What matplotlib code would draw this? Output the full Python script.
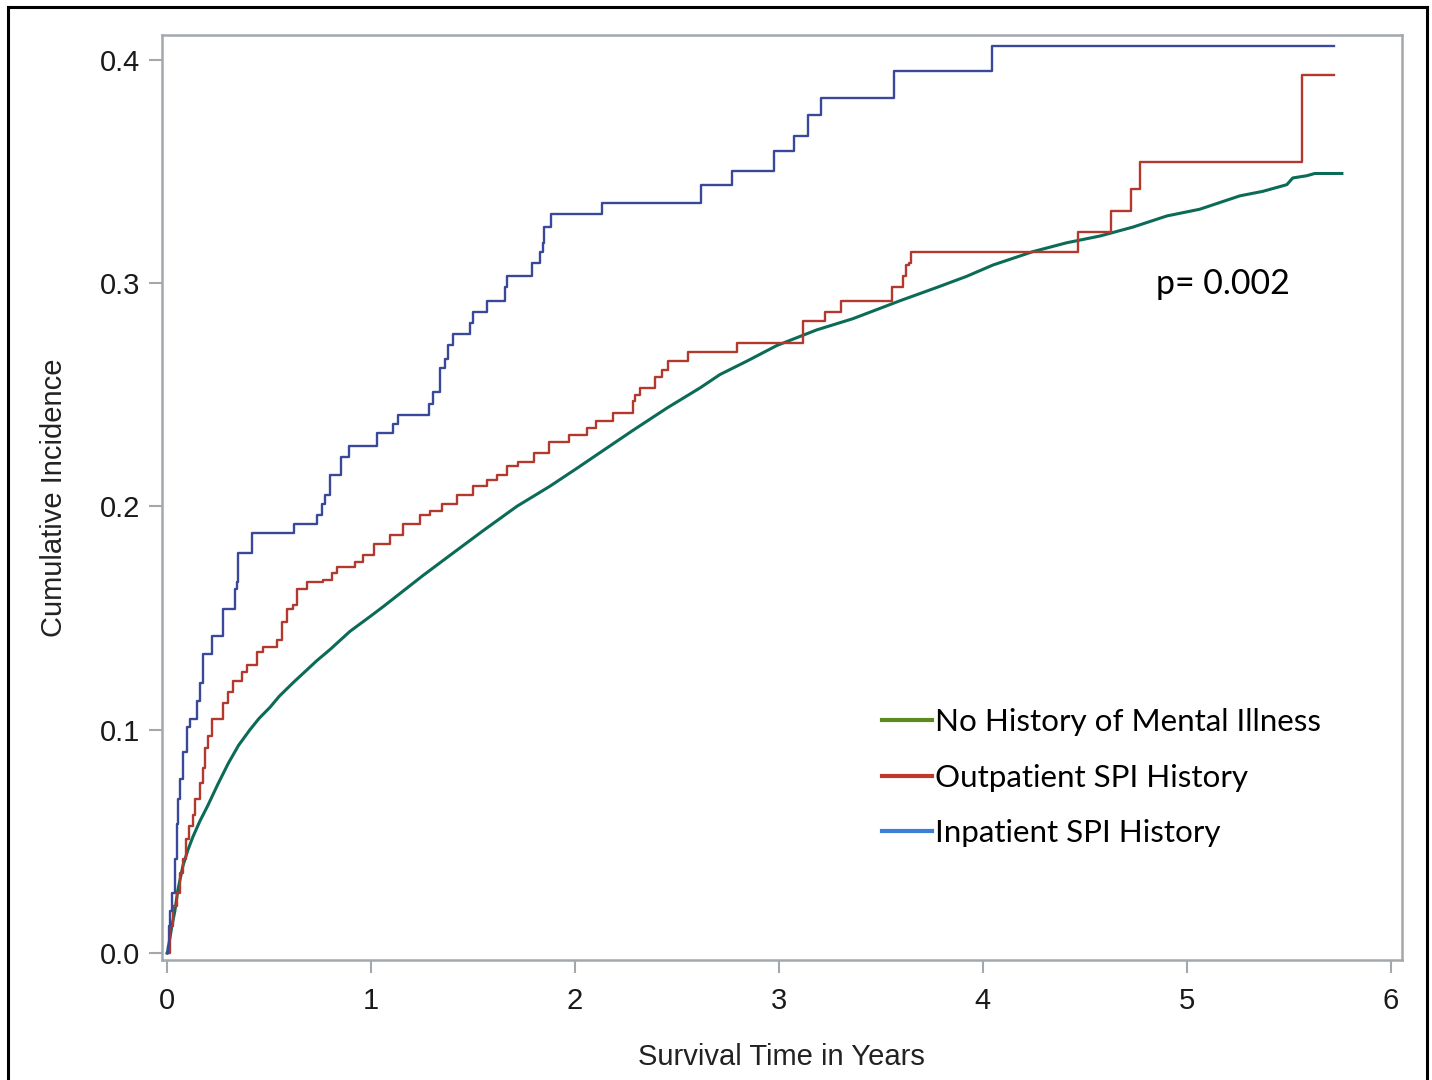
"""Cumulative incidence by mental illness history, redrawn from the figure."""

import matplotlib
import matplotlib.pyplot as plt
from matplotlib.lines import Line2D

matplotlib.use("Agg")

# Inpatient SPI history (step function, value holds from each time)
inpatient_years = [
    0.000, 0.003, 0.008, 0.013, 0.023, 0.038, 0.048, 0.055, 0.062, 0.077,
    0.096, 0.111, 0.146, 0.160, 0.175, 0.219, 0.273, 0.332, 0.340, 0.347,
    0.415, 0.621, 0.734, 0.758, 0.773, 0.798, 0.852, 0.891, 1.029, 1.107,
    1.131, 1.284, 1.303, 1.338, 1.362, 1.377, 1.401, 1.485, 1.500, 1.569,
    1.657, 1.667, 1.789, 1.828, 1.843, 1.848, 1.882, 2.132, 2.618, 2.770,
    2.976, 3.074, 3.142, 3.206, 3.564, 4.045, 5.722]
inpatient_ci = [
    0.000, 0.003, 0.012, 0.019, 0.027, 0.042, 0.058, 0.069, 0.078, 0.090,
    0.101, 0.105, 0.113, 0.121, 0.134, 0.142, 0.154, 0.163, 0.166, 0.179,
    0.188, 0.192, 0.196, 0.201, 0.205, 0.214, 0.222, 0.227, 0.233, 0.237,
    0.241, 0.246, 0.251, 0.262, 0.266, 0.272, 0.277, 0.282, 0.287, 0.292,
    0.298, 0.303, 0.309, 0.314, 0.318, 0.325, 0.331, 0.336, 0.344, 0.350,
    0.359, 0.366, 0.375, 0.383, 0.395, 0.406, 0.406]

# Outpatient SPI history (step function)
outpatient_years = [
    0.000, 0.013, 0.028, 0.048, 0.062, 0.077, 0.092, 0.106, 0.126, 0.136,
    0.160, 0.175, 0.185, 0.200, 0.219, 0.273, 0.298, 0.322, 0.366, 0.391,
    0.440, 0.469, 0.538, 0.563, 0.587, 0.616, 0.636, 0.685, 0.764, 0.808,
    0.832, 0.920, 0.959, 1.013, 1.092, 1.156, 1.239, 1.288, 1.347, 1.421,
    1.500, 1.569, 1.618, 1.667, 1.721, 1.799, 1.873, 1.971, 2.059, 2.103,
    2.186, 2.284, 2.294, 2.318, 2.392, 2.426, 2.456, 2.554, 2.794, 3.118,
    3.226, 3.304, 3.554, 3.608, 3.623, 3.637, 3.647, 4.466, 4.628, 4.726,
    4.770, 5.565, 5.722]
outpatient_ci = [
    0.000, 0.012, 0.021, 0.027, 0.036, 0.042, 0.051, 0.057, 0.062, 0.069,
    0.076, 0.083, 0.092, 0.097, 0.105, 0.112, 0.117, 0.122, 0.126, 0.129,
    0.135, 0.137, 0.140, 0.148, 0.154, 0.156, 0.163, 0.166, 0.167, 0.170,
    0.173, 0.175, 0.178, 0.183, 0.187, 0.192, 0.196, 0.198, 0.201, 0.205,
    0.209, 0.212, 0.214, 0.218, 0.220, 0.224, 0.229, 0.232, 0.235, 0.238,
    0.242, 0.247, 0.250, 0.253, 0.258, 0.261, 0.265, 0.269, 0.273, 0.283,
    0.287, 0.292, 0.298, 0.303, 0.308, 0.309, 0.314, 0.323, 0.332, 0.342,
    0.354, 0.393, 0.393]

# No history of mental illness (many small steps, read as a curve)
none_years = [
    0.000, 0.003, 0.023, 0.038, 0.052, 0.077, 0.101, 0.126, 0.160, 0.199,
    0.248, 0.300, 0.350, 0.406, 0.450, 0.504, 0.550, 0.617, 0.735, 0.800,
    0.896, 1.000, 1.058, 1.254, 1.386, 1.548, 1.715, 1.877, 2.009, 2.122,
    2.284, 2.451, 2.613, 2.711, 2.843, 2.990, 3.186, 3.363, 3.593, 3.775,
    3.922, 4.049, 4.245, 4.412, 4.574, 4.736, 4.903, 5.064, 5.261, 5.373,
    5.491, 5.520, 5.589, 5.628, 5.761]
none_ci = [
    0.000, 0.001, 0.012, 0.019, 0.028, 0.039, 0.046, 0.052, 0.059, 0.066,
    0.0755, 0.085, 0.093, 0.100, 0.105, 0.110, 0.115, 0.121, 0.131, 0.136,
    0.144, 0.151, 0.155, 0.169, 0.178, 0.189, 0.200, 0.209, 0.217, 0.224,
    0.234, 0.244, 0.253, 0.259, 0.265, 0.272, 0.279, 0.284, 0.292, 0.298,
    0.303, 0.308, 0.314, 0.318, 0.321, 0.325, 0.330, 0.333, 0.339, 0.341,
    0.344, 0.347, 0.348, 0.349, 0.349]

legend_labels = ["No History of Mental Illness", "Outpatient SPI History",
                 "Inpatient SPI History"]
x_ticks = [0, 1, 2, 3, 4, 5, 6]
y_ticks = [0.0, 0.1, 0.2, 0.3, 0.4]
p_value = "p= 0.002"

FRAME = "#a3a8ad"


def main():
    """Draw the figure and save it as out.png.

    :return: None.
    """
    plt.rcParams["font.family"] = ["Liberation Sans", "DejaVu Sans"]
    figure = plt.figure(figsize=(14.32, 10.80), dpi=100)
    axis = figure.add_axes([0.1129, 0.1111, 0.8659, 0.8565])

    axis.plot(none_years, none_ci, color="#0c6b57", lw=2.2,
              solid_joinstyle="round")
    axis.plot(outpatient_years, outpatient_ci, color="#b3392f", lw=1.7,
              drawstyle="steps-post")
    axis.plot(inpatient_years, inpatient_ci, color="#3a4899", lw=1.7,
              drawstyle="steps-post")

    axis.set_xlim(-0.027, 6.054)
    axis.set_ylim(-0.0031, 0.411)
    axis.set_xticks(x_ticks)
    axis.set_xticklabels([str(t) for t in x_ticks])
    axis.set_yticks(y_ticks)
    axis.set_yticklabels(["%.1f" % t for t in y_ticks])
    axis.tick_params(axis="both", direction="out", length=9.5, width=1.5,
                     color=FRAME, labelsize=21, labelcolor="#1a1a1a")
    axis.tick_params(axis="x", pad=10)
    axis.tick_params(axis="y", pad=6)
    for spine in axis.spines.values():
        spine.set_color(FRAME)
        spine.set_linewidth(1.8)

    axis.set_xlabel("Survival Time in Years", fontsize=21, color="#222222",
                    labelpad=20)
    axis.set_ylabel("Cumulative Incidence", fontsize=21, color="#222222",
                    labelpad=23)

    axis.text(0.8019, 0.7308, p_value, transform=axis.transAxes,
              fontsize=24.4, family="Lato", color="black", ha="left",
              va="center")

    handles = [Line2D([], [], color="#5b8a1f", lw=3),
               Line2D([], [], color="#c0392b", lw=3),
               Line2D([], [], color="#3c7fd8", lw=3)]
    axis.legend(handles, legend_labels, loc="upper left",
                bbox_to_anchor=(882 / 1432, 1 - 708 / 1080),
                bbox_transform=figure.transFigure, frameon=False,
                prop={"family": "Lato", "size": 22.6}, handlelength=1.6,
                handletextpad=0.1, labelspacing=0.88, borderpad=0,
                borderaxespad=0)

    # outer border of the original panel
    for xs, ys in [([8 / 1432, 8 / 1432], [0, 1 - 7 / 1080]),
                   ([8 / 1432, 1427 / 1432], [1 - 7 / 1080, 1 - 7 / 1080]),
                   ([1427 / 1432, 1427 / 1432], [1 - 7 / 1080, 0])]:
        figure.add_artist(Line2D(xs, ys, color="black", lw=2.2,
                                 transform=figure.transFigure))

    figure.savefig("out.png", dpi=100, facecolor="white")
    plt.close(figure)


if __name__ == "__main__":
    main()
